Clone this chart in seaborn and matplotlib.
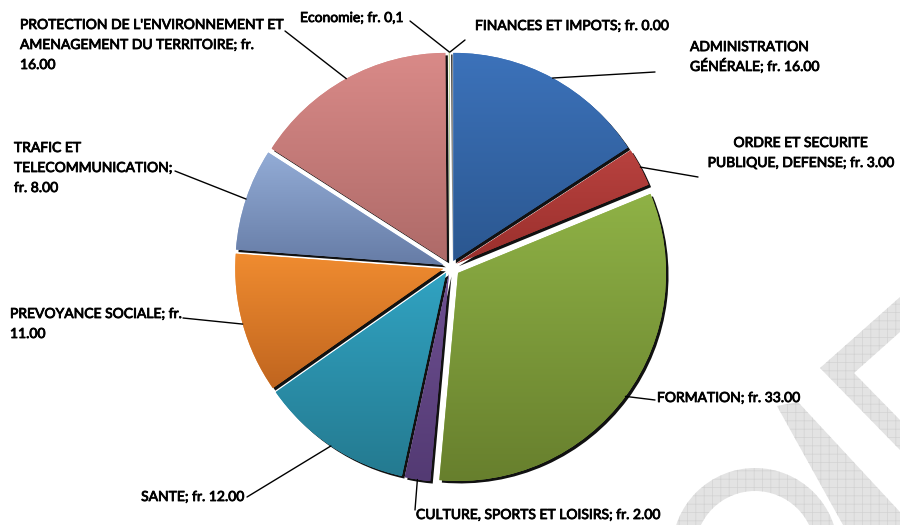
"""
Pie chart: budget split by department (fr.), Excel-style exploded slices
Output: out.png
"""

import numpy as np
import matplotlib.pyplot as plt
import matplotlib.colors as mcolors
import matplotlib.patheffects as pe
from matplotlib.patches import Polygon, Wedge
import seaborn as sns

# ── data ─────────────────────────────────────────────────────────────────────
categories = ["ADMINISTRATION GÉNÉRALE", "ORDRE ET SECURITE PUBLIQUE, DEFENSE",
              "FORMATION", "CULTURE, SPORTS ET LOISIRS", "SANTE",
              "PREVOYANCE SOCIALE", "TRAFIC ET TELECOMMUNICATION",
              "PROTECTION DE L'ENVIRONNEMENT ET AMENAGEMENT DU TERRITOIRE",
              "Economie", "FINANCES ET IMPOTS"]
values = [16, 3, 33, 2, 12, 11, 8, 16, 0.1, 0]
label_templates = ["ADMINISTRATION\nGÉNÉRALE; fr. {}",
                   "ORDRE ET SECURITE\nPUBLIQUE, DEFENSE; fr. {}",
                   "FORMATION; fr. {}",
                   "CULTURE, SPORTS ET LOISIRS; fr. {}",
                   "SANTE; fr. {}",
                   "PREVOYANCE SOCIALE; fr.\n{}",
                   "TRAFIC ET\nTELECOMMUNICATION;\nfr. {}",
                   "PROTECTION DE L'ENVIRONNEMENT ET\nAMENAGEMENT DU TERRITOIRE; fr.\n{}",
                   "Economie; fr. {}",
                   "FINANCES ET IMPOTS; fr. {}"]


def fmt(v):
    if v == 0 or v >= 1:
        return f"{v:.2f}"
    return f"{v:.1f}".replace(".", ",")


labels = [t.format(fmt(v)) for t, v in zip(label_templates, values)]

# gradient colours (top -> bottom) per slice
top_colors = ["#3c72ba", "#b8423f", "#8fb246", "#6e5092", "#31a3c2",
              "#f08c30", "#93acd6", "#d98a88", "#c6d9a0", "#a898c0"]
bottom_colors = ["#2b5790", "#9a2f2c", "#677f2d", "#533a73", "#247a90",
                 "#c0651f", "#667ca6", "#ae6a68", "#a6bb7c", "#8878a0"]

# label layout in image pixels: (x, y, ha) and leader end point
H = 525
label_pos = [(690, 57, "left"), (800, 153, "center"), (657, 398, "left"),
             (416, 515, "left"), (244, 497, "right"), (10, 324, "left"),
             (14, 168, "left"), (20, 45, "left"), (300, 18, "left"),
             (475, 26, "left")]
leader_end = [(655, 72), (698, 177), (655, 400), (415, 510), (247, 497),
              (183, 318), (175, 171), (285, 31), (410, 21), (465, 40)]

sns.set_theme(style="white")
plt.rcParams["font.family"] = ["Lato", "DejaVu Sans"]
plt.rcParams["hatch.linewidth"] = 0.5

fig = plt.figure(figsize=(9, 5.25), dpi=100)
ax = fig.add_axes([0, 0, 1, 1])

# ── watermark (grey hatched strokes, right side) ─────────────────────────────
wm = dict(facecolor="#e3e3e3", edgecolor="#d2d2d2", hatch="++", linewidth=0, zorder=0)
chevron = [(900, 297), (820, 368), (900, 450), (900, 420), (854, 373), (900, 332)]
band = [(777, 406), (798, 402), (900, 512), (900, 525), (843, 525)]
ax.add_patch(Polygon([(x, H - y) for x, y in chevron], closed=True, **wm))
ax.add_patch(Polygon([(x, H - y) for x, y in band], closed=True, **wm))
ax.add_patch(Wedge((755, H - 551), 83, 0, 180, width=23, **wm))

# ── pie ──────────────────────────────────────────────────────────────────────
cx, cy, R = 450, H - 267, 208
explode = [7, 7, 10, 7, 7, 7, 7, 7, 7, 7]   # pixels

# drop shadow
ax.pie(values, explode=explode, colors=["#111111"] * len(values),
       center=(cx + 2.5, cy - 2.5), radius=R, startangle=90, counterclock=False,
       wedgeprops=dict(linewidth=0), frame=True)

wedges, _ = ax.pie(values, explode=explode, colors=top_colors,
                   center=(cx, cy), radius=R, startangle=90, counterclock=False,
                   wedgeprops=dict(linewidth=0), frame=True)

grad = np.linspace(0, 1, 256).reshape(-1, 1)
for w, c0, c1, v in zip(wedges, top_colors, bottom_colors, values):
    if v <= 0:
        continue
    verts = w.get_patch_transform().transform(w.get_path().vertices)
    x0, y0 = verts.min(axis=0)
    x1, y1 = verts.max(axis=0)
    cmap = mcolors.LinearSegmentedColormap.from_list("g", [c0, c1])
    im = ax.imshow(grad, extent=(x0, x1, y0, y1), origin="upper", cmap=cmap,
                   aspect="auto", zorder=w.get_zorder() + 0.1, interpolation="bilinear")
    im.set_clip_path(w)

# ── labels + leader lines ────────────────────────────────────────────────────
bolder = [pe.withStroke(linewidth=0.6, foreground="black")]
for w, lab, (lx, ly, ha), (ex, ey) in zip(wedges, labels, label_pos, leader_end):
    mid = np.deg2rad((w.theta1 + w.theta2) / 2)
    px = w.center[0] + w.r * np.cos(mid)
    py = w.center[1] + w.r * np.sin(mid)
    ax.plot([px, ex], [py, H - ey], color="black", linewidth=1.0, zorder=5)
    ls = 1.45 if "É" in lab else 1.8
    ax.text(lx, H - ly, lab, ha=ha, va="center", multialignment=ha,
            fontsize=10, color="black", linespacing=ls, zorder=6,
            path_effects=bolder)

ax.set_xlim(0, 900)
ax.set_ylim(0, H)
ax.set_aspect("auto")
ax.axis("off")

fig.savefig("out.png", dpi=100)
plt.close(fig)
print("Saved: out.png")
